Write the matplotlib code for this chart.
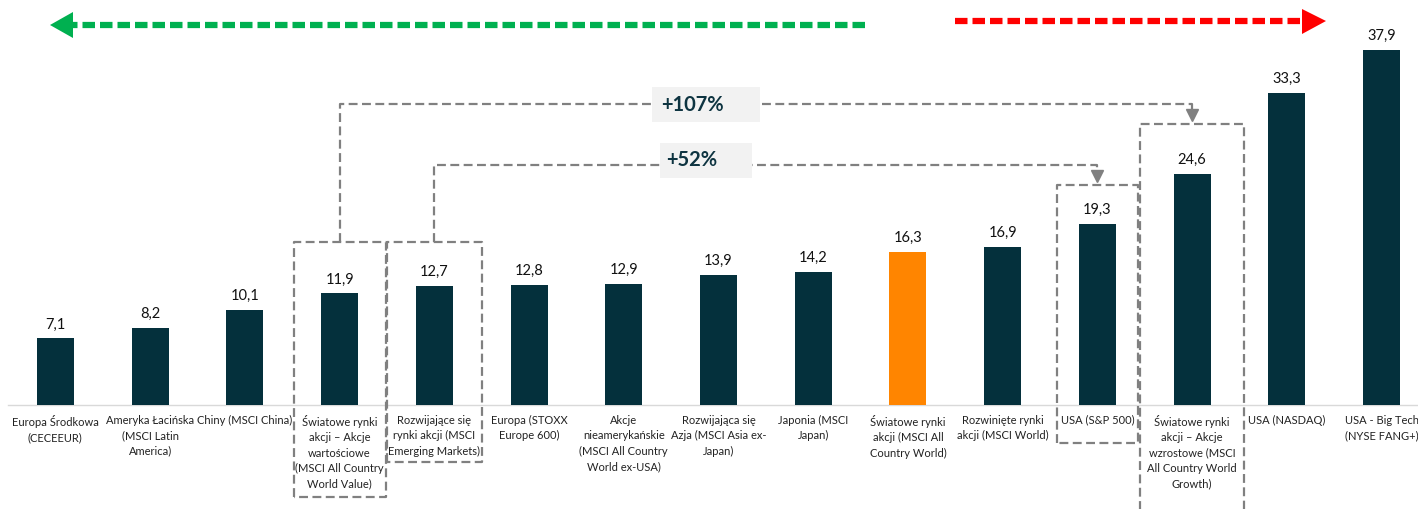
import matplotlib
matplotlib.use("Agg")
import matplotlib.pyplot as plt
from matplotlib.lines import Line2D
from matplotlib.patches import Polygon, Rectangle

plt.rcParams['font.family'] = ['Lato', 'DejaVu Sans']

categories = [
    "Europa Środkowa\n(CECEEUR)",
    "Ameryka Łacińska\n(MSCI Latin\nAmerica)",
    "Chiny (MSCI China)",
    "Światowe rynki\nakcji – Akcje\nwartościowe\n(MSCI All Country\nWorld Value)",
    "Rozwijające się\nrynki akcji (MSCI\nEmerging Markets)",
    "Europa (STOXX\nEurope 600)",
    "Akcje\nnieamerykańskie\n(MSCI All Country\nWorld ex-USA)",
    "Rozwijająca się\nAzja (MSCI Asia ex-\nJapan)",
    "Japonia (MSCI\nJapan)",
    "Światowe rynki\nakcji (MSCI All\nCountry World)",
    "Rozwinięte rynki\nakcji (MSCI World)",
    "USA (S&P 500)",
    "Światowe rynki\nakcji – Akcje\nwzrostowe (MSCI\nAll Country World\nGrowth)",
    "USA (NASDAQ)",
    "USA - Big Tech\n(NYSE FANG+)",
]
values = [7.1, 8.2, 10.1, 11.9, 12.7, 12.8, 12.9, 13.9, 14.2, 16.3, 16.9, 19.3, 24.6, 33.3, 37.9]
highlight_index = 9
comparisons = [("+107%", 3, 12), ("+52%", 4, 11)]

W, H = 1418, 509
fig = plt.figure(figsize=(W / 100, H / 100), dpi=100)
# axes: baseline at y=405px, top at y=0
ax = fig.add_axes([8 / W, (H - 405) / H, (1429 - 8) / W, 405 / H])

dark = '#04303C'
orange = '#FF8500'
gray = '#808080'
colors = [orange if i == highlight_index else dark for i in range(len(values))]
x = list(range(len(values)))
ax.bar(x, values, width=0.39, color=colors, zorder=3)
ax.set_xlim(-0.5, len(values) - 0.5)
ax.set_ylim(0, 43.2)

for xi, v in zip(x, values):
    ax.text(xi, v + 0.75, f"{v:.1f}".replace('.', ','), ha='center', va='bottom',
            fontsize=10.5, color='#111111')

ax.set_xticks(x)
ax.set_xticklabels(categories, fontsize=8.0, color='#222222', linespacing=1.5, va='top')
ax.tick_params(axis='x', length=0, pad=7)
ax.set_yticks([])
for s in ['top', 'right', 'left']:
    ax.spines[s].set_visible(False)
ax.spines['bottom'].set_color('#D9D9D9')
ax.spines['bottom'].set_linewidth(1)

dash_kw = dict(color=gray, lw=1.6, dashes=(4, 2), clip_on=False, zorder=4)

def box(cx, half, top, bottom):
    ax.plot([cx - half, cx - half, cx + half, cx + half, cx - half],
            [bottom, top, top, bottom, bottom], **dash_kw)

# dashed boxes (x half-widths, y top/bottom in data units)
box(3, 0.485, 17.4, -9.8)
box(4, 0.50, 17.4, -6.1)
box(11, 0.43, 23.5, -4.05)
box(12, 0.55, 30.0, -11.6)

# connectors: (comparison, y start, y level, y end, label box x0, x1, y0, y1)
conn = [(comparisons[0], 17.4, 32.1, 30.0, 6.30, 7.44, 30.2, 33.9),
        (comparisons[1], 17.4, 25.6, 23.5, 6.38, 7.35, 24.2, 27.96)]
for (lbl, i0, i1), ystart, ylevel, yend, bx0, bx1, by0, by1 in conn:
    ax.plot([i0, i0, i1, i1], [ystart, ylevel, ylevel, yend + 1.3], **dash_kw)
    ax.plot([i1], [yend + 0.9], marker='v', markersize=9, color=gray, clip_on=False, zorder=5)
    ax.add_patch(Rectangle((bx0, by0), bx1 - bx0, by1 - by0, facecolor='#F2F2F2',
                           edgecolor='none', zorder=5))
    ax.text(6.72, (by0 + by1) / 2, lbl, ha='center', va='center', fontsize=14.5,
            fontweight='bold', color='#0E3441', zorder=6)

# top arrows (figure pixel coords)
def px(xp, yp):
    return xp / W, (H - yp) / H

green = '#00B050'
red = '#FF0000'
(gx0, gy), (gx1, _) = px(865, 25), px(70, 25)
fig.add_artist(Line2D([gx0, gx1], [gy, gy], color=green, lw=4.5, dashes=(2, 0.8),
                      solid_capstyle='butt', dash_capstyle='butt'))
fig.add_artist(Polygon([px(50, 25), px(73, 12), px(73, 38)], closed=True,
                       facecolor=green, edgecolor='none'))
(rx0, ry), (rx1, _) = px(955, 21), px(1302, 21)
fig.add_artist(Line2D([rx0, rx1], [ry, ry], color=red, lw=4.5, dashes=(2, 0.8),
                      solid_capstyle='butt', dash_capstyle='butt'))
fig.add_artist(Polygon([px(1326, 21), px(1302, 9), px(1302, 34)], closed=True,
                       facecolor=red, edgecolor='none'))

fig.savefig('out.png', dpi=100)
